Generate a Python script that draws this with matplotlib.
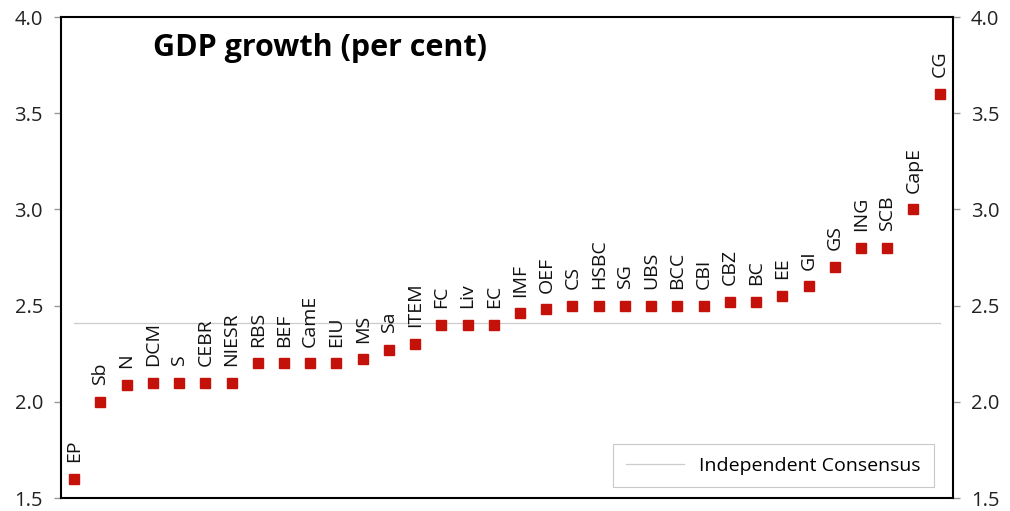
import numpy as np
import matplotlib.pyplot as plt

plt.rcParams['font.family'] = ['Open Sans', 'DejaVu Sans']

# forecasters, ordered by forecast
labels = ["EP", "Sb", "N", "DCM", "S", "CEBR", "NIESR", "RBS", "BEF", "CamE",
          "EIU", "MS", "Sa", "ITEM", "FC", "Liv", "EC", "IMF", "OEF", "CS",
          "HSBC", "SG", "UBS", "BCC", "CBI", "CBZ", "BC", "EE", "GI", "GS",
          "ING", "SCB", "CapE", "CG"]
growth = [1.6, 2.0, 2.09, 2.1, 2.1, 2.1, 2.1, 2.2, 2.2, 2.2,
          2.2, 2.22, 2.27, 2.3, 2.4, 2.4, 2.4, 2.46, 2.48, 2.5,
          2.5, 2.5, 2.5, 2.5, 2.5, 2.52, 2.52, 2.55, 2.6, 2.7,
          2.8, 2.8, 3.0, 3.6]
consensus = 2.41
yticks = [1.5, 2.0, 2.5, 3.0, 3.5, 4.0]

fig = plt.figure(figsize=(10.1, 5.11), dpi=100)
ax = fig.add_axes([0.0604, 0.0254, 0.883, 0.9413])

x = np.arange(len(labels))
ax.plot([x[0], x[-1]], [consensus, consensus], color="#cccccc", lw=0.9,
        label="Independent Consensus", zorder=1)
ax.plot(x, growth, ls="none", marker="s", ms=7, color="#c4120a",
        mec="#c4120a", zorder=3)

for xi, yi, lab in zip(x, growth, labels):
    ax.annotate(lab, (xi, yi), xytext=(0, 12), textcoords="offset points",
                rotation=90, ha="center", va="bottom", fontsize=14,
                color="#111111")

ax.set_xlim(-0.5, len(labels) - 0.5)
ax.set_ylim(1.5, 4.0)
ax.set_xticks([])
ax.set_yticks(yticks)
ax.set_yticklabels([f"{t:.1f}" for t in yticks])
ax.tick_params(axis="y", direction="out", length=5, width=1, color="#999999",
               labelsize=14.5, labelcolor="#222222", left=True, right=True,
               labelleft=True, labelright=True, pad=8)
for side in ["left", "right", "top", "bottom"]:
    ax.spines[side].set_linewidth(1.5)
    ax.spines[side].set_color("black")

ax.text(0.103, 0.935, "GDP growth (per cent)", transform=ax.transAxes,
        fontsize=22, fontweight="bold", ha="left", va="center")

leg = ax.legend(loc="lower right", bbox_to_anchor=(0.985, 0.01), fontsize=14,
                frameon=True, fancybox=False, handlelength=3.0, borderpad=0.65,
                handletextpad=0.8, borderaxespad=0.3)
leg.get_frame().set_edgecolor("#bbbbbb")
leg.get_frame().set_linewidth(0.8)

fig.savefig("out.png", dpi=100)
